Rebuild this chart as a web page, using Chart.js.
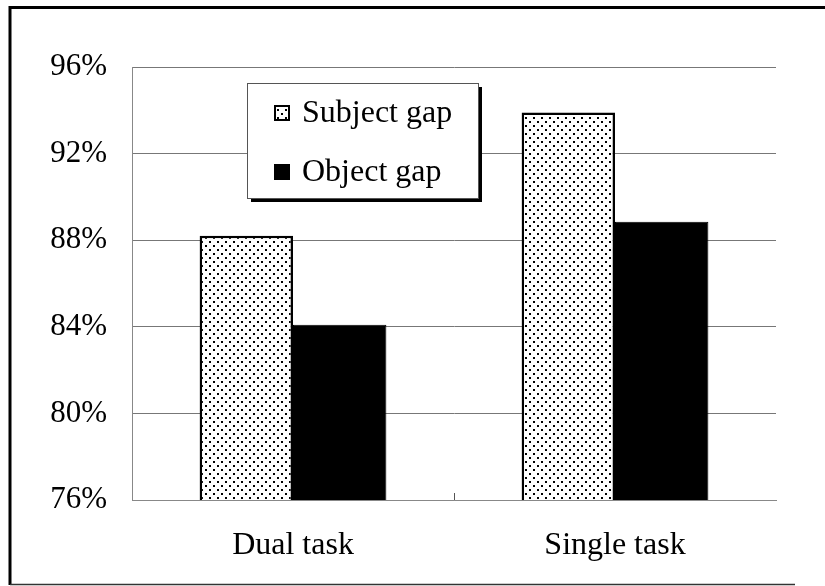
<!DOCTYPE html>
<html>
<head>
<meta charset="utf-8">
<script src="https://cdn.jsdelivr.net/npm/chart.js@4"></script>
<style>
  html, body { margin: 0; padding: 0; background: #fff; }
  #wrap { width: 825px; height: 586px; }
</style>
</head>
<body>
<div id="wrap"><canvas id="c" width="825" height="586"></canvas></div>
<script>
// data
const categories = ["Dual task", "Single task"];
const seriesNames = ["Subject gap", "Object gap"];
const subjectGap = [88.2, 93.9];
const objectGap = [84.1, 88.85];
const yTicks = [76, 80, 84, 88, 92, 96];

const FONT = '"Liberation Serif", "Times New Roman", Times, serif';

// dotted fill like the old Excel pattern
function dotPattern() {
  const t = document.createElement("canvas");
  t.width = 8; t.height = 8;
  const g = t.getContext("2d");
  g.fillStyle = "#fff";
  g.fillRect(0, 0, 8, 8);
  g.fillStyle = "#000";
  g.fillRect(1, 1, 2, 2);
  g.fillRect(5, 5, 2, 2);
  return document.getElementById("c").getContext("2d").createPattern(t, "repeat");
}
const dots = dotPattern();

// frame + white background
const frame = {
  id: "frame",
  beforeDraw(chart) {
    const ctx = chart.ctx;
    ctx.save();
    ctx.fillStyle = "#fff";
    ctx.fillRect(0, 0, chart.width, chart.height);
    ctx.strokeStyle = "#000";
    ctx.lineWidth = 3;
    ctx.beginPath();
    ctx.moveTo(825, 7.5); ctx.lineTo(10, 7.5); ctx.lineTo(10, 585);
    ctx.stroke();
    ctx.lineWidth = 1.5;
    ctx.strokeStyle = "#333";
    ctx.beginPath();
    ctx.moveTo(10, 584.5); ctx.lineTo(795, 584.5);
    ctx.stroke();
    ctx.restore();
  },
  afterDatasetsDraw(chart) {
    // little center tick on the x axis
    const ctx = chart.ctx, a = chart.chartArea;
    const mid = (a.left + a.right) / 2;
    ctx.save();
    ctx.strokeStyle = "#555";
    ctx.lineWidth = 1;
    ctx.beginPath();
    ctx.moveTo(Math.round(mid) + 0.5, a.bottom); ctx.lineTo(Math.round(mid) + 0.5, a.bottom - 7);
    ctx.stroke();
    ctx.restore();
  }
};

// legend box with drop shadow, placed inside the plot
const boxLegend = {
  id: "boxLegend",
  afterDraw(chart) {
    const ctx = chart.ctx;
    const x = 247, y = 83, w = 231, h = 115;
    ctx.save();
    ctx.fillStyle = "#000";
    ctx.fillRect(x + 4, y + h, w, 4);
    ctx.fillRect(x + w, y + 4, 4, h);
    ctx.fillStyle = "#fff";
    ctx.fillRect(x, y, w, h);
    ctx.strokeStyle = "#555";
    ctx.lineWidth = 1;
    ctx.strokeRect(x + 0.5, y + 0.5, w, h);
    ctx.font = "32px " + FONT;
    ctx.textBaseline = "middle";
    chart.data.datasets.forEach((ds, i) => {
      const cy = y + 30 + i * 59;
      const sx = x + 28, s = 14;
      ctx.fillStyle = ds.backgroundColor;
      ctx.fillRect(sx, cy - s / 2, s, s);
      ctx.strokeStyle = "#000";
      ctx.lineWidth = 2;
      ctx.strokeRect(sx, cy - s / 2, s, s);
      ctx.fillStyle = "#000";
      ctx.fillText(ds.label, sx + s + 13, cy + 1);
    });
    ctx.restore();
  }
};

new Chart(document.getElementById("c"), {
  type: "bar",
  data: {
    labels: categories,
    datasets: [
      { label: seriesNames[0], data: subjectGap, backgroundColor: dots, borderColor: "#000", borderWidth: 2.5 },
      { label: seriesNames[1], data: objectGap, backgroundColor: "#000", borderColor: "#000", borderWidth: 1 },
    ],
  },
  options: {
    responsive: false,
    animation: false,
    layout: { padding: { left: 0, top: 67, right: 49, bottom: 0 } },
    datasets: { bar: { categoryPercentage: 0.58, barPercentage: 1.0 } },
    plugins: { legend: { display: false }, tooltip: { enabled: false } },
    scales: {
      x: {
        grid: { display: false, drawTicks: false },
        border: { display: true, color: "#888", width: 1 },
        ticks: { color: "#000", font: { family: FONT, size: 32 }, padding: 26 },
        afterFit: (s) => { s.height = 86; },
      },
      y: {
        min: yTicks[0],
        max: yTicks[yTicks.length - 1],
        afterBuildTicks: (s) => { s.ticks = yTicks.map((v) => ({ value: v })); },
        grid: { color: "#777", lineWidth: 1, drawTicks: false },
        border: { display: true, color: "#888", width: 1 },
        ticks: { color: "#000", font: { family: FONT, size: 31 }, padding: 25, callback: (v) => v + "%" },
        afterFit: (s) => { s.width = 132; },
      },
    },
  },
  plugins: [frame, boxLegend],
});
</script>
</body>
</html>
